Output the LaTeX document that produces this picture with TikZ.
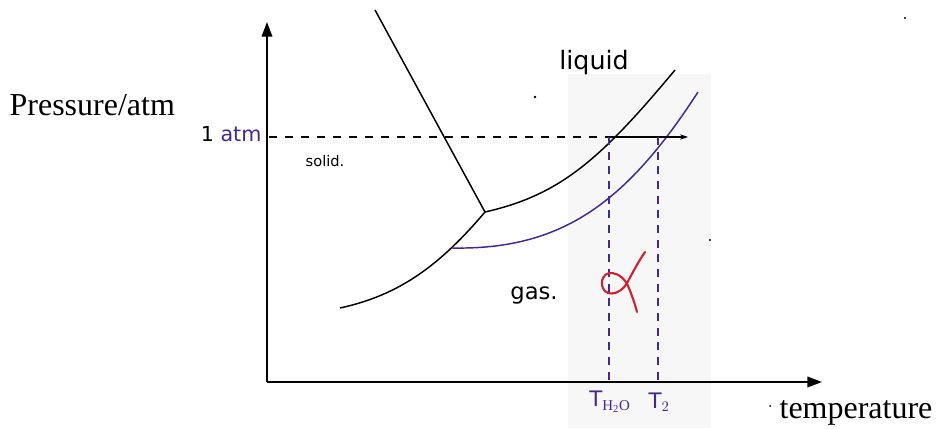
\documentclass[tikz,border=0pt]{standalone}
\usepackage{fontspec}
\setmainfont{Liberation Serif}
\newfontfamily\hand{DejaVu Sans}
\usetikzlibrary{arrows.meta}
\definecolor{pur}{RGB}{70,40,140}
\definecolor{redd}{RGB}{205,35,55}
\tikzset{
  axis/.style={line width=1.1pt,-{Triangle[length=11pt,width=8pt]}},
  curve/.style={line width=1.1pt},
  pcurve/.style={line width=1.1pt,pur},
  vdash/.style={line width=0.9pt,pur,dash pattern=on 6pt off 5pt},
  hdash/.style={line width=0.9pt,dash pattern=on 6pt off 6pt},
  hw/.style={font=\hand\fontsize{11}{11}\selectfont,inner sep=1pt},
  prt/.style={font=\fontsize{24}{24}\selectfont,inner sep=1pt}
}
\begin{document}
\begin{tikzpicture}[x=0.75pt,y=-0.75pt]
\useasboundingbox (0,0) rectangle (937,428);
\fill[white] (0,0) rectangle (937,428);
\fill[black!3] (568,74) rectangle (711,428);
% axes
\coordinate (O) at (267,382);
\coordinate (ytop) at (267,22);
\coordinate (xend) at (822,382);
\draw[axis] (O) -- (ytop);
\draw[axis] (O) -- (xend);
% labels
\node[prt,anchor=west] (plab) at (8,105) {Pressure/atm};
\node[prt,anchor=west] (tlab) at (778,413) {temperature};
\node[hw,anchor=east,font=\hand\fontsize{15.5}{15.5}\selectfont] (atm) at (263,134) {1 \textcolor{pur}{atm}};
\node[hw,font=\hand\fontsize{11}{11}\selectfont] (solid) at (325,161) {solid.};
\node[hw,font=\hand\fontsize{19}{19}\selectfont] (liq) at (594,63) {liquid};
\node[hw,font=\hand\fontsize{17}{17}\selectfont] (gas) at (534,296) {gas.};
\node[hw,pur,font=\hand\fontsize{16}{16}\selectfont] (th) at (610,402) {T$_{\mathrm{H_2O}}$};
\node[hw,pur,font=\hand\fontsize{16}{16}\selectfont] (t2) at (659,402) {T$_{2}$};
% phase curves
\coordinate (tp) at (485,212);
\coordinate (sltop) at (375,10);
\coordinate (subl) at (340,308);
\coordinate (lgend) at (675,70);
\coordinate (ptp) at (452,248);
\coordinate (pend) at (698,92);
\draw[curve] (sltop) -- (tp);
\draw[curve] (subl) .. controls (400,295) and (440,265) .. (tp);
\draw[curve] (tp) .. controls (560,195) and (600,160) .. (lgend);
\draw[pcurve] (ptp) .. controls (560,250) and (625,205) .. (pend);
% 1 atm line
\coordinate (hstart) at (269,137);
\coordinate (hmid) at (607,137);
\coordinate (hend) at (688,137);
\draw[hdash] (hstart) -- (hmid);
\draw[line width=0.9pt,-{Stealth[length=6pt,width=4pt]}] (hmid) -- (hend);
% verticals
\coordinate (v1t) at (609,137);
\coordinate (v1b) at (609,382);
\coordinate (v2t) at (658,137);
\coordinate (v2b) at (658,382);
\draw[vdash] (v1t) -- (v1b);
\draw[vdash] (v2t) -- (v2b);
% alpha drawn as stroke
\coordinate (alpha) at (620,282);
\draw[redd,line width=1.6pt,line cap=round,line join=round]
  (645,252) .. controls (638,262) and (632,274) .. (627,283)
  .. controls (620,296) and (602,298) .. (602,283)
  .. controls (602,268) and (622,270) .. (629,288)
  .. controls (632,296) and (635,304) .. (637,312);
% specks
\fill (535,97) circle (1.3);
\fill (710,240) circle (1.2);
\fill (905,18) circle (1.2);
\fill (770,406) circle (1.0);
\end{tikzpicture}
\end{document}
